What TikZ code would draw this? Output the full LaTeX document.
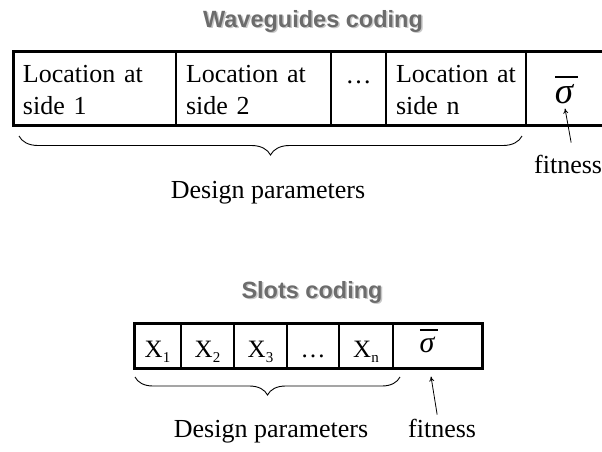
\documentclass[tikz,border=0pt]{standalone}
\usepackage{fontspec}
\setmainfont{Liberation Serif}
\newfontfamily\headfont{Liberation Sans}
\usetikzlibrary{decorations.pathreplacing,arrows.meta}
\definecolor{headgray}{RGB}{108,108,108}
\definecolor{shadegray}{RGB}{200,200,200}
% a letter with a lowered small index
\newcommand\xsub[2]{#1\raisebox{-5pt}{\fontsize{15}{15}\selectfont #2}}
\begin{document}
\begin{tikzpicture}[x=1pt,y=-1pt,
  heading/.style={font=\headfont\bfseries\fontsize{23.5}{28}\selectfont,
    text=headgray, inner sep=0pt, anchor=base},
  headshade/.style={heading, text=shadegray},
  cell/.style={draw, line width=1.7pt, anchor=north west, inner sep=0pt, outer sep=0pt},
  topcell/.style={cell, minimum height=74pt, inner xsep=10pt, align=left,
    font=\fontsize{26}{32}\selectfont},
  lowcell/.style={cell, minimum height=45pt, text height=25pt, text depth=2pt,
    font=\fontsize{25}{30}\selectfont},
  frame/.style={line width=3pt},
  label/.style={font=\fontsize{26}{32}\selectfont, inner sep=0pt, anchor=base},
  sig/.style={inner sep=0pt, anchor=base},
  sigbar/.style={line width=1.8pt},
  bracepath/.style={line width=0.9pt, decorate},
  fitarrow/.style={line width=0.8pt, -{To[length=5pt,width=5pt]}}
]
\useasboundingbox (0,0) rectangle (602,451);
\clip (0,0) rectangle (602,451);

% ---------- waveguides coding ----------
\node[headshade] (t1s) at (314.5,28.5) {Waveguides coding};
\node[heading] (t1) at (313,27) {Waveguides coding};

\node[topcell, minimum width=163pt, text width=143pt] (w1) at (13,51)
  {\rule{0pt}{22pt}Location~at\\side 1};
\node[topcell, minimum width=155pt, text width=135pt] (w2) at (176,51)
  {\rule{0pt}{22pt}Location~at\\side 2};
\node[cell, minimum width=55pt, minimum height=74pt, text height=22pt, text depth=32pt,
  font=\fontsize{26}{32}\selectfont] (w3) at (331,51) {…};
\node[topcell, minimum width=140pt, text width=120pt] (w4) at (386,51)
  {\rule{0pt}{22pt}Location~at\\side n};
\node[cell, minimum width=80pt, minimum height=74pt] (w5) at (526,51) {};
\draw[frame] (w1.north west) rectangle (w5.south east);

% sigma with its bar
\node[sig, font=\itshape\fontsize{37}{40}\selectfont] (s1) at (564,103) {σ};
\draw[sigbar] ([shift={(0.5,-7)}]s1.north west) -- ([shift={(4.5,-7)}]s1.north east);

\coordinate (wbl) at (19,136);
\coordinate (wbr) at (522,136);
\draw[bracepath, decoration={brace, mirror, amplitude=19pt}] (wbl) -- (wbr);

\node[label] (d1) at (268,198) {Design parameters};
\node[label, anchor=base west] (f1) at (534,173) {fitness};
\draw[fitarrow] ([shift={(3,-12)}]f1.north) -- ([shift={(1,5)}]s1.south);

% ---------- slots coding ----------
\node[headshade] (t2s) at (313.5,299.5) {Slots coding};
\node[heading] (t2) at (312,298) {Slots coding};

\node[lowcell, minimum width=47pt] (b1) at (134,323) {\xsub{X}{1}};
\node[lowcell, minimum width=53pt] (b2) at (181,323) {\xsub{X}{2}};
\node[lowcell, minimum width=53pt] (b3) at (234,323) {\xsub{X}{3}};
\node[lowcell, minimum width=52pt] (b4) at (287,323) {…};
\node[lowcell, minimum width=54pt] (b5) at (339,323) {\xsub{X}{n}};
\node[cell, minimum width=89pt, minimum height=45pt] (b6) at (393,323) {};
\draw[frame] (b1.north west) rectangle (b6.south east);

\node[sig, font=\itshape\fontsize{30}{33}\selectfont] (s2) at (427,352) {σ};
\draw[sigbar] ([shift={(0.5,-6)}]s2.north west) -- ([shift={(3.5,-6)}]s2.north east);

\coordinate (bbl) at (135,377);
\coordinate (bbr) at (400,377);
\draw[bracepath, decoration={brace, mirror, amplitude=18pt}] (bbl) -- (bbr);

\node[label] (d2) at (271,437) {Design parameters};
\node[label, anchor=base west] (f2) at (408,437) {fitness};
\draw[fitarrow] ([shift={(-5,-4)}]f2.north) -- ([shift={(4,24)}]s2.south);
\end{tikzpicture}
\end{document}
